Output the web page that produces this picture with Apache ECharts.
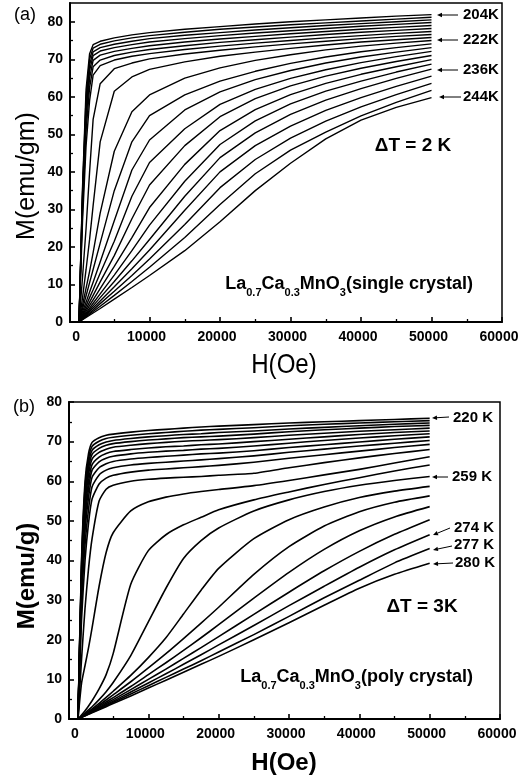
<!DOCTYPE html>
<html><head><meta charset="utf-8">
<script src="https://cdn.jsdelivr.net/npm/echarts@6/dist/echarts.min.js"></script>
<style>html,body{margin:0;padding:0;background:#fff}#c{width:529px;height:779px}</style>
</head><body><div id="c"></div>
<script>
// ---------- Panel (a): single crystal, dT = 2 K ----------
const fieldA = [0, 500, 1000, 1500, 2000, 3000, 5000, 7500, 10000, 15000, 20000, 25000, 30000, 35000, 40000, 45000, 50000];
const a204 = [0, 36, 62, 71.5, 73.9, 74.8, 75.7, 76.5, 77.1, 78.0, 78.7, 79.4, 80.0, 80.5, 81.0, 81.5, 81.9];
const a206 = [0, 35, 60, 70.0, 73.0, 74.0, 74.9, 75.7, 76.3, 77.2, 78.0, 78.6, 79.2, 79.7, 80.2, 80.7, 81.2];
const a208 = [0, 34, 58, 68.5, 72.0, 73.1, 74.0, 74.8, 75.5, 76.4, 77.1, 77.8, 78.4, 79.0, 79.5, 80.0, 80.5];
const a210 = [0, 33, 56, 67.0, 71.0, 72.2, 73.1, 73.9, 74.6, 75.5, 76.3, 77.0, 77.6, 78.2, 78.8, 79.3, 79.8];
const a212 = [0, 32, 54, 65.0, 69.7, 71.1, 72.1, 72.9, 73.6, 74.6, 75.4, 76.1, 76.8, 77.4, 78.0, 78.5, 79.0];
const a214 = [0, 30, 51, 62.5, 68.0, 69.8, 71.0, 71.9, 72.6, 73.6, 74.5, 75.2, 75.9, 76.6, 77.2, 77.7, 78.2];
const a216 = [0, 27, 47, 59.0, 65.8, 68.3, 69.8, 70.8, 71.5, 72.6, 73.5, 74.3, 75.0, 75.7, 76.3, 76.9, 77.4];
const a218 = [0, 12, 25, 40, 54, 63.5, 67.5, 69.0, 70.1, 71.4, 72.4, 73.3, 74.1, 74.8, 75.5, 76.1, 76.6];
const a220 = [0, 6.5, 14, 22, 31, 48, 61.5, 65.3, 67.3, 69.3, 70.8, 71.9, 72.9, 73.8, 74.6, 75.2, 75.8];
const a222 = [0, 4.5, 9, 13.5, 18.5, 29, 45.5, 56, 60.5, 65.0, 67.7, 69.7, 71.2, 72.5, 73.5, 74.3, 75.0];
const a224 = [0, 3.5, 7, 10.5, 14, 21, 35, 48, 55, 60.5, 64.2, 66.8, 68.9, 70.6, 72.0, 73.1, 74.1];
const a226 = [0, 2.7, 5.3, 8, 10.6, 16, 27, 40.5, 48.5, 56.5, 61.3, 64.6, 67.0, 69.0, 70.6, 71.9, 73.1];
const a228 = [0, 2.1, 4.3, 6.5, 8.6, 13, 21.5, 33.5, 42.5, 51.5, 58.0, 62.0, 64.9, 67.2, 69.1, 70.7, 72.1];
const a230 = [0, 1.7, 3.5, 5.3, 7.1, 10.7, 17.7, 27.5, 36.5, 47.0, 54.7, 59.5, 62.9, 65.5, 67.6, 69.4, 71.0];
const a232 = [0, 1.4, 2.9, 4.4, 5.9, 8.9, 14.8, 22.5, 30.5, 42.0, 51.0, 56.6, 60.6, 63.6, 66.0, 68.0, 69.9];
const a234 = [0, 1.2, 2.4, 3.7, 5.0, 7.5, 12.5, 19.0, 25.8, 37.5, 47.3, 53.6, 58.1, 61.5, 64.2, 66.6, 68.7];
const a236 = [0, 1.0, 2.1, 3.2, 4.3, 6.5, 10.8, 16.3, 22.0, 33.5, 43.8, 50.4, 55.3, 59.1, 62.2, 64.9, 67.4];
const a238 = [0, 0.9, 1.8, 2.8, 3.7, 5.6, 9.4, 14.2, 19.2, 29.8, 40.0, 47.0, 52.2, 56.4, 59.8, 62.8, 65.5];
const a240 = [0, 0.8, 1.6, 2.4, 3.2, 4.9, 8.2, 12.4, 16.8, 26.0, 35.8, 43.3, 49.0, 53.5, 57.3, 60.6, 63.6];
const a242 = [0, 0.7, 1.4, 2.1, 2.8, 4.2, 7.1, 10.8, 14.6, 22.5, 31.3, 39.5, 45.8, 50.6, 54.9, 58.5, 61.7];
const a244 = [0, 0.6, 1.2, 1.8, 2.4, 3.6, 6.1, 9.2, 12.4, 19.0, 26.7, 35.0, 42.3, 48.8, 53.8, 57.2, 59.8];
const curvesA = [a204, a206, a208, a210, a212, a214, a216, a218, a220, a222, a224, a226, a228, a230, a232, a234, a236, a238, a240, a242, a244];

// ---------- Panel (b): poly crystal, dT = 3 K ----------
const fieldB = [0, 500, 1000, 1500, 2000, 3000, 4000, 5000, 7500, 10000, 12500, 15000, 17500, 20000, 25000, 30000, 35000, 40000, 45000, 50000];
const b220 = [0, 40, 60, 67, 69.8, 71.0, 71.6, 71.9, 72.4, 72.8, 73.1, 73.4, 73.7, 73.9, 74.3, 74.7, 75.0, 75.3, 75.6, 75.9];
const b223 = [0, 39, 58.5, 65.8, 68.8, 70.1, 70.8, 71.1, 71.6, 72.0, 72.3, 72.6, 72.9, 73.1, 73.5, 74.0, 74.4, 74.7, 75.0, 75.3];
const b226 = [0, 38, 57, 64.5, 67.8, 69.2, 69.9, 70.3, 70.8, 71.2, 71.5, 71.8, 72.0, 72.3, 72.7, 73.2, 73.6, 74.0, 74.4, 74.7];
const b229 = [0, 37, 55.5, 63.2, 66.8, 68.3, 69.1, 69.5, 70.0, 70.4, 70.7, 71.0, 71.2, 71.4, 71.9, 72.5, 73.0, 73.4, 73.8, 74.1];
const b232 = [0, 36, 54, 61.8, 65.6, 67.3, 68.1, 68.6, 69.1, 69.5, 69.8, 70.1, 70.3, 70.5, 71.0, 71.6, 72.1, 72.6, 73.0, 73.4];
const b235 = [0, 35, 52, 60.0, 64.2, 66.1, 67.0, 67.5, 68.0, 68.4, 68.7, 68.9, 69.2, 69.4, 70.0, 70.6, 71.2, 71.8, 72.3, 72.7];
const b238 = [0, 34, 50, 58.2, 62.8, 64.9, 65.8, 66.3, 66.9, 67.3, 67.6, 67.8, 68.1, 68.3, 68.9, 69.6, 70.3, 70.9, 71.5, 72.0];
const b241 = [0, 32, 47.5, 56.0, 61.0, 63.4, 64.4, 65.0, 65.6, 66.0, 66.3, 66.6, 66.9, 67.1, 67.7, 68.5, 69.2, 69.9, 70.6, 71.2];
const b244 = [0, 29, 44, 53.0, 58.6, 61.6, 62.8, 63.4, 64.1, 64.5, 64.8, 65.1, 65.4, 65.7, 66.4, 67.3, 68.1, 68.9, 69.6, 70.3];
const b247 = [0, 25, 40, 49.5, 55.5, 59.3, 60.8, 61.5, 62.3, 62.8, 63.1, 63.4, 63.7, 64.0, 64.8, 65.8, 66.7, 67.6, 68.5, 69.3];
const b250 = [0, 15, 28, 38, 45.5, 55, 58, 59, 60, 60.5, 60.8, 61.0, 61.2, 61.5, 62.0, 63.4, 64.7, 65.9, 67.0, 68.0];
const b253 = [0, 9, 13.5, 18, 23, 33.5, 42, 47, 52.5, 54.8, 56.0, 56.8, 57.4, 57.9, 58.9, 60.2, 61.6, 63.0, 64.6, 66.2];
const b256 = [0, 1.0, 2.1, 3.3, 4.6, 7.6, 11.2, 16.5, 34, 42.5, 46.5, 49, 50.9, 52.8, 55.3, 57.3, 59.2, 60.9, 62.6, 64.1];
const b259 = [0, 0.75, 1.5, 2.3, 3.1, 4.9, 6.9, 9.2, 16.0, 24.5, 33.0, 40.5, 45.0, 48.2, 52.5, 55.3, 57.4, 59.0, 60.2, 61.2];
const b262 = [0, 0.62, 1.25, 1.9, 2.55, 3.95, 5.45, 7.0, 11.0, 15.5, 20.5, 26.5, 32.5, 38.0, 45.5, 50.3, 53.5, 55.9, 57.5, 58.7];
const b265 = [0, 0.55, 1.1, 1.7, 2.3, 3.5, 4.8, 6.1, 9.4, 12.9, 16.5, 20.3, 24.2, 28.2, 36.5, 43.5, 48.7, 52.3, 54.7, 56.3];
const b268 = [0, 0.5, 1.0, 1.55, 2.1, 3.2, 4.3, 5.4, 8.2, 11.2, 14.2, 17.3, 20.5, 23.8, 30.5, 37.0, 42.8, 47.5, 51.0, 53.6];
const b271 = [0, 0.48, 0.96, 1.45, 1.95, 2.9, 3.9, 4.9, 7.4, 10.0, 12.6, 15.3, 18.0, 20.8, 26.4, 32.0, 37.4, 42.3, 46.6, 50.3];
const b274 = [0, 0.45, 0.9, 1.35, 1.8, 2.7, 3.6, 4.5, 6.8, 9.1, 11.4, 13.8, 16.2, 18.7, 23.6, 28.6, 33.5, 38.3, 42.7, 46.5];
const b277 = [0, 0.42, 0.84, 1.26, 1.68, 2.5, 3.35, 4.2, 6.3, 8.4, 10.5, 12.6, 14.7, 16.9, 21.3, 25.9, 30.6, 35.0, 39.4, 43.0];
const b280 = [0, 0.4, 0.8, 1.2, 1.55, 2.3, 3.1, 3.9, 5.8, 7.8, 9.8, 11.8, 13.8, 15.8, 20.0, 24.3, 28.7, 33.0, 36.5, 39.3];
const curvesB = [b220, b223, b226, b229, b232, b235, b238, b241, b244, b247, b250, b253, b256, b259, b262, b265, b268, b271, b274, b277, b280];

// ---------- Tick values ----------
const xMajorTicks = [0, 10000, 20000, 30000, 40000, 50000, 60000];
const xMinorTicks = [5000, 15000, 25000, 35000, 45000, 55000];
const yMajorTicks = [0, 10, 20, 30, 40, 50, 60, 70, 80];
const yMinorTicks = [5, 15, 25, 35, 45, 55, 65, 75];

// ---------- Chart ----------
const FONT = '"Liberation Sans", Arial, sans-serif';
const chart = echarts.init(document.getElementById('c'));

const gridA = {left: 70, top: 3, width: 432, height: 319};
const gridB = {left: 69, top: 402, width: 431, height: 317};

function mkGrid(g, show) {
  return Object.assign({show: show, borderColor: '#000', borderWidth: 1.5, backgroundColor: 'rgba(0,0,0,0)', containLabel: false}, g);
}
function majorX(gi) {
  return {type: 'value', gridIndex: gi, min: -1280, max: 60000, position: 'bottom',
    axisLine: {show: true, onZero: false, lineStyle: {color: '#000', width: 2}},
    axisTick: {show: true, inside: true, length: 5, lineStyle: {color: '#000', width: 1.6}, customValues: xMajorTicks},
    axisLabel: {show: true, customValues: xMajorTicks, margin: 8, color: '#000', fontFamily: FONT, fontWeight: 'bold', fontSize: 14, padding: [0, 6, 0, 0], formatter: v => String(v)},
    splitLine: {show: false}};
}
function minorX(gi) {
  return {type: 'value', gridIndex: gi, min: -1280, max: 60000, position: 'bottom',
    axisLine: {show: false, onZero: false},
    axisTick: {show: true, inside: true, length: 3, lineStyle: {color: '#000', width: 1.3}, customValues: xMinorTicks},
    axisLabel: {show: false}, splitLine: {show: false}};
}
function majorY(gi, max) {
  return {type: 'value', gridIndex: gi, min: 0, max: max, position: 'left',
    axisLine: {show: true, onZero: false, lineStyle: {color: '#000', width: 2}},
    axisTick: {show: true, inside: true, length: 5, lineStyle: {color: '#000', width: 1.6}, customValues: yMajorTicks},
    axisLabel: {show: true, customValues: yMajorTicks, margin: 7, color: '#000', fontFamily: FONT, fontWeight: 'bold', fontSize: 14},
    splitLine: {show: false}};
}
function minorY(gi, max) {
  return {type: 'value', gridIndex: gi, min: 0, max: max, position: 'left',
    axisLine: {show: false, onZero: false},
    axisTick: {show: true, inside: true, length: 3, lineStyle: {color: '#000', width: 1.3}, customValues: yMinorTicks},
    axisLabel: {show: false}, splitLine: {show: false}};
}

const series = [];
curvesA.forEach(m => series.push({
  type: 'line', xAxisIndex: 0, yAxisIndex: 0, data: fieldA.map((h, i) => [h, m[i]]),
  symbol: 'none', showSymbol: false, lineStyle: {color: '#000', width: 1.4}, silent: true, animation: false, z: 3
}));
curvesB.forEach(m => series.push({
  type: 'line', xAxisIndex: 2, yAxisIndex: 2, data: fieldB.map((h, i) => [h, m[i]]),
  symbol: 'none', showSymbol: false, smooth: 0.2,
  lineStyle: {color: '#000', width: 1.6, join: 'round'}, silent: true, animation: false, z: 3
}));

// ---------- Text & annotations ----------
const txt = (x, y, text, font, opts) => ({type: 'text', x: x, y: y, silent: true,
  style: Object.assign({text: text, font: font, fill: '#000', align: 'center', verticalAlign: 'middle'}, opts || {})});
function arrow(x1, y1, x2, y2) {
  const dx = x2 - x1, dy = y2 - y1, L = Math.hypot(dx, dy), ux = dx / L, uy = dy / L;
  const hl = 5, hw = 2.2;
  const bx = x2 - ux * hl, by = y2 - uy * hl;
  return [
    {type: 'line', silent: true, shape: {x1: x1, y1: y1, x2: bx, y2: by}, style: {stroke: '#000', lineWidth: 1}},
    {type: 'polygon', silent: true, shape: {points: [[x2, y2], [bx - uy * hw, by + ux * hw], [bx + uy * hw, by - ux * hw]]}, style: {fill: '#000'}}
  ];
}
const richStyle = {
  m: {fontFamily: FONT, fontWeight: 'bold', fontSize: 18, lineHeight: 28},
  s: {fontFamily: FONT, fontWeight: 'bold', fontSize: 11, lineHeight: 11, verticalAlign: 'bottom'}
};
const B = 'bold ';
const graphics = [
  txt(25, 15, '(a)', '18px ' + FONT),
  txt(24, 407, '(b)', '18px ' + FONT),
  Object.assign(txt(27, 176, 'M(emu/gm)', '25px ' + FONT), {rotation: Math.PI / 2}),
  Object.assign(txt(27, 576, 'M(emu/g)', B + '24px ' + FONT), {rotation: Math.PI / 2}),
  Object.assign(txt(284, 365, 'H(Oe)', '28px ' + FONT), {scaleX: 0.86}),
  txt(284, 763, 'H(Oe)', B + '24px ' + FONT),
  txt(413, 146, 'ΔT = 2 K', B + '19px ' + FONT),
  txt(422, 607, 'ΔT = 3K', B + '19px ' + FONT),
  {type: 'text', x: 473, y: 284, silent: true, style: {text: '{m|La}{s|0.7}{m|Ca}{s|0.3}{m|MnO}{s|3}{m|(single crystal)}', rich: richStyle, align: 'right', verticalAlign: 'middle', fill: '#000'}},
  {type: 'text', x: 473, y: 677, silent: true, style: {text: '{m|La}{s|0.7}{m|Ca}{s|0.3}{m|MnO}{s|3}{m|(poly crystal)}', rich: richStyle, align: 'right', verticalAlign: 'middle', fill: '#000'}}
];
const labelsA = [
  {t: '204K', tx: 463, ty: 15, a: [458, 15, 437, 15]},
  {t: '222K', tx: 463, ty: 40, a: [458, 40, 437, 40]},
  {t: '236K', tx: 463, ty: 70, a: [458, 70, 437, 70]},
  {t: '244K', tx: 463, ty: 97, a: [461, 97, 439, 97]}
];
const labelsB = [
  {t: '220 K', tx: 453, ty: 418, a: [449, 417, 432, 418]},
  {t: '259 K', tx: 452, ty: 477, a: [448, 477, 432, 477]},
  {t: '274 K', tx: 454, ty: 528, a: [450, 528, 433, 535]},
  {t: '277 K', tx: 454, ty: 545, a: [452, 546, 433, 550]},
  {t: '280 K', tx: 455, ty: 563, a: [453, 563, 433, 564]}
];
labelsA.concat(labelsB).forEach(l => {
  graphics.push(txt(l.tx, l.ty, l.t, B + '15px ' + FONT, {align: 'left'}));
  arrow(l.a[0], l.a[1], l.a[2], l.a[3]).forEach(g => graphics.push(g));
});

chart.setOption({
  animation: false,
  backgroundColor: '#fff',
  grid: [mkGrid(gridA, true), mkGrid(gridA, false), mkGrid(gridB, true), mkGrid(gridB, false)],
  xAxis: [majorX(0), minorX(1), majorX(2), minorX(3)],
  yAxis: [majorY(0, 85), minorY(1, 85), majorY(2, 80), minorY(3, 80)],
  series: series,
  graphic: {elements: graphics}
});
</script>
</body></html>
